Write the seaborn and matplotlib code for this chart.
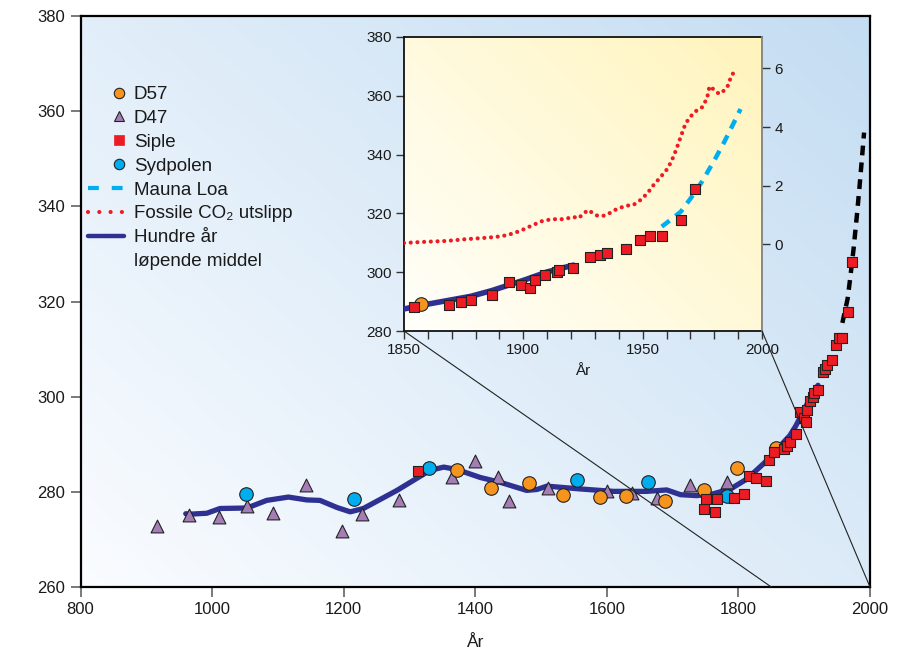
import numpy as np
import pandas as pd
import matplotlib
matplotlib.use("Agg")
import matplotlib.pyplot as plt
import seaborn as sns
from matplotlib.lines import Line2D
from matplotlib.patches import ConnectionPatch

# ---------------- data ----------------
d57_year = [1372, 1424, 1481, 1533, 1589, 1629, 1689, 1748, 1798, 1857]
d57_co2 = [284.5, 280.9, 281.9, 279.4, 278.9, 279.2, 278.1, 280.3, 285.0, 289.2]

d47_year = [917, 965, 1011, 1053, 1093, 1142, 1197, 1228, 1284, 1364, 1400, 1435,
            1451, 1511, 1601, 1639, 1676, 1727, 1783]
d47_co2 = [272.9, 275.2, 274.8, 277.0, 275.6, 281.4, 271.8, 275.3, 278.3, 283.1, 286.4, 283.2,
           278.0, 280.8, 280.1, 279.8, 278.8, 281.5, 282.0]

siple_year = [1313, 1748, 1750, 1765, 1768, 1794, 1809, 1816, 1826, 1842, 1847,
              1854, 1869, 1874, 1878, 1887, 1894, 1899, 1903, 1905, 1909, 1914, 1915,
              1921, 1928, 1932, 1935, 1943, 1949, 1953, 1958, 1966, 1972]
siple_co2 = [284.3, 276.3, 278.5, 275.7, 278.5, 278.8, 279.6, 283.4, 282.9, 282.3, 286.6,
             288.3, 289.0, 289.7, 290.5, 292.1, 296.7, 295.6, 294.7, 297.2, 299.0, 299.9, 300.8,
             301.5, 305.1, 305.8, 306.6, 307.8, 310.8, 312.4, 312.3, 317.7, 328.2]

sydpol_year = [1052, 1215, 1330, 1555, 1663, 1782]
sydpol_co2 = [279.6, 278.5, 285.1, 282.4, 282.0, 279.1]

mauna_year = [1958, 1962, 1966, 1970, 1975, 1980, 1984, 1988, 1991]
mauna_co2 = [315.5, 318.0, 320.6, 325.0, 331.0, 338.0, 344.0, 350.5, 355.5]

mean_year = [960, 966, 992, 1012, 1053, 1083, 1116, 1144, 1164, 1190, 1210, 1230, 1281,
             1331, 1352, 1372, 1408, 1438, 1478, 1494, 1509, 1560, 1610, 1661, 1691,
             1712, 1737, 1762, 1788, 1813, 1838, 1850, 1859, 1878, 1887, 1901, 1910, 1921]
mean_co2 = [275.4, 275.3, 275.5, 276.5, 276.6, 278.2, 278.9, 278.3, 278.2, 276.7, 275.8,
            276.5, 280.3, 284.5, 285.2, 284.7, 283.0, 282.0, 280.3, 280.5, 281.2, 280.6,
            280.1, 280.1, 280.4, 279.4, 279.2, 279.6, 280.6, 282.7, 285.9, 287.5, 289.0,
            291.8, 293.8, 297.5, 300.1, 302.4]

fossil_year = [1850, 1859, 1868, 1876, 1885, 1891, 1896, 1900, 1904, 1908, 1912, 1917,
               1921, 1923, 1927, 1929, 1931, 1934, 1936, 1939, 1943, 1946, 1949, 1952,
               1954, 1957, 1960, 1962, 1964, 1966, 1968, 1971, 1973, 1975, 1977, 1978,
               1980, 1982, 1984, 1986, 1987, 1989]
fossil_gt = [0.05, 0.09, 0.12, 0.18, 0.23, 0.28, 0.38, 0.51, 0.66, 0.80, 0.86, 0.86,
             0.94, 0.89, 1.17, 1.08, 0.98, 0.98, 1.06, 1.20, 1.32, 1.34, 1.51, 1.74,
             1.97, 2.25, 2.54, 2.82, 3.22, 3.68, 4.13, 4.45, 4.59, 4.68, 4.99, 5.39,
             5.27, 5.13, 5.24, 5.44, 5.73, 5.95]

main_xticks = [800, 1000, 1200, 1400, 1600, 1800, 2000]
main_yticks = [260, 280, 300, 320, 340, 360, 380]
inset_xticks = [1850, 1900, 1950, 2000]
inset_yticks = [280, 300, 320, 340, 360, 380]
inset_rticks = [0, 2, 4, 6]
xlabel = "År"

# ---------------- style ----------------
sns.set_style("ticks")
plt.rcParams['font.family'] = ['Liberation Sans', 'DejaVu Sans']

C_D57 = "#F7941D"
C_D47 = "#A57DB5"
C_SIP = "#ED1C24"
C_SYD = "#00AEEF"
C_MEAN = "#2E3192"
C_FOS = "#ED1C24"

W, H = 899, 651
fig = plt.figure(figsize=(W / 100, H / 100), dpi=100)
fig.patch.set_facecolor("white")

ax = fig.add_axes([80.5 / W, 1 - 587 / H, (870 - 80.5) / W, (587 - 16) / H])
ins = fig.add_axes([404 / W, 1 - 331 / H, (762 - 404) / W, (331 - 37) / H])


def gradient(a, c0, c1):
    n = 256
    xx, yy = np.meshgrid(np.linspace(0, 1, n), np.linspace(0, 1, n))
    t = (xx * 0.55 + yy * 0.45)
    t = t[..., None]
    img = (1 - t) * np.array(c0) / 255 + t * np.array(c1) / 255
    a.imshow(img, extent=[0, 1, 0, 1], transform=a.transAxes, origin="lower",
             aspect="auto", zorder=0, interpolation="bilinear")


gradient(ax, (250, 252, 255), (196, 221, 242))
gradient(ins, (255, 255, 251), (255, 244, 188))


def draw_points(a):
    sns.scatterplot(x=d47_year, y=d47_co2, ax=a, marker="^", s=85, color=C_D47,
                    edgecolor="#222222", linewidth=0.8, zorder=4, legend=False)
    sns.scatterplot(x=sydpol_year, y=sydpol_co2, ax=a, marker="o", s=95, color=C_SYD,
                    edgecolor="#222222", linewidth=0.8, zorder=4, legend=False)
    sns.scatterplot(x=d57_year, y=d57_co2, ax=a, marker="o", s=95, color=C_D57,
                    edgecolor="#222222", linewidth=0.8, zorder=5, legend=False)
    sns.scatterplot(x=siple_year, y=siple_co2, ax=a, marker="s", s=60, color=C_SIP,
                    edgecolor="#222222", linewidth=0.8, zorder=6, legend=False)


# main
sns.lineplot(x=mean_year, y=mean_co2, ax=ax, color=C_MEAN, lw=3.8, zorder=3,
             solid_capstyle="round")
sns.lineplot(x=mauna_year, y=mauna_co2, ax=ax, color="black", lw=3.2, zorder=3)
ax.lines[-1].set_dashes((2.2, 1.6))
draw_points(ax)

ax.set_xlim(800, 2000)
ax.set_ylim(260, 380)
ax.set_xticks(main_xticks)
ax.set_yticks(main_yticks)
ax.tick_params(axis="both", direction="out", length=7, width=1.1, color="#555555",
               labelsize=12, labelcolor="#1a1a1a", pad=4)
for s in ax.spines.values():
    s.set_linewidth(1.6)
    s.set_color("black")
    s.set_visible(True)
ax.set_xlabel(xlabel, fontsize=12.5, labelpad=13, color="#1a1a1a")
ax.set_ylabel("")

# inset
sns.lineplot(x=mean_year, y=mean_co2, ax=ins, color=C_MEAN, lw=4.0, zorder=3,
             solid_capstyle="round")
sns.lineplot(x=mauna_year, y=mauna_co2, ax=ins, color=C_SYD, lw=3.2, zorder=3)
ins.lines[-1].set_dashes((2.2, 1.7))
draw_points(ins)
ins.set_xlim(1850, 2000)
ins.set_ylim(280, 380)
ins.set_xticks(inset_xticks)
ins.set_xticks(np.arange(1850, 2001, 10), minor=True)
ins.set_yticks(inset_yticks)
ins.tick_params(axis="both", which="both", direction="out", length=6, width=1.0,
                color="#333333", labelsize=11, labelcolor="#1a1a1a", pad=3)
ins.tick_params(axis="x", which="minor", length=6)
for k, s in ins.spines.items():
    s.set_visible(True)
    s.set_linewidth(1.3)
    s.set_color("#111111")
ins.spines["right"].set_color("#8a8a8a")
ins.set_xlabel(xlabel, fontsize=11, labelpad=5, color="#1a1a1a")
ins.set_ylabel("")

ax2 = ins.twinx()
sns.lineplot(x=fossil_year, y=fossil_gt, ax=ax2, color=C_FOS, lw=3.0, zorder=3)
ax2.lines[-1].set_dashes((0.01, 1.6))
ax2.lines[-1].set_dash_capstyle("round")
ax2.set_ylim(-2.95, 7.07)
ax2.set_yticks(inset_rticks)
ax2.tick_params(axis="y", direction="out", length=6, width=1.0, color="#333333",
                labelsize=11, labelcolor="#1a1a1a", pad=3)
ax2.set_ylabel("")
ax2.spines["right"].set_color("#8a8a8a")
ax2.spines["right"].set_linewidth(1.3)
for k in ["left", "top", "bottom"]:
    ax2.spines[k].set_visible(False)

# zoom connectors
for xv in (1850, 2000):
    cp = ConnectionPatch(xyA=(xv, 280), coordsA=ins.transData,
                         xyB=(xv, 260), coordsB=ax.transData,
                         color="#222222", lw=0.8, zorder=2)
    fig.add_artist(cp)

# legend
h_d57 = Line2D([], [], ls="none", marker="o", ms=7.5, mfc=C_D57, mec="#222222", mew=0.8)
h_d47 = Line2D([], [], ls="none", marker="^", ms=7.5, mfc=C_D47, mec="#222222", mew=0.8)
h_sip = Line2D([], [], ls="none", marker="s", ms=6.5, mfc=C_SIP, mec=C_SIP, mew=0.5)
h_syd = Line2D([], [], ls="none", marker="o", ms=7.5, mfc=C_SYD, mec="#222222", mew=0.8)
h_ml = Line2D([], [], color=C_SYD, lw=3.0, dashes=(2.6, 3.1))
h_fos = Line2D([], [], color=C_FOS, lw=3.0, dashes=(0.01, 2.7), dash_capstyle="round")
h_mean = Line2D([], [], color=C_MEAN, lw=3.2)
h_blank = Line2D([], [], color="none")
labels = ["D57", "D47", "Siple", "Sydpolen", "Mauna Loa", "Fossile CO₂ utslipp",
          "Hundre år", "løpende middel"]
leg = ax.legend([h_d57, h_d47, h_sip, h_syd, h_ml, h_fos, h_mean, h_blank], labels,
                loc="upper left", bbox_to_anchor=(88 / W, 1 - 86 / H),
                bbox_transform=fig.transFigure, frameon=False, fontsize=13.5,
                handlelength=1.9, handletextpad=0.55, labelspacing=0.36,
                borderpad=0, borderaxespad=0, numpoints=1)
for t in leg.get_texts():
    t.set_color("#1a1a1a")
for h in leg.legend_handles[:4]:
    xd = np.asarray(h.get_xdata(), dtype=float)
    xm = xd[0] + 0.88 * (xd[-1] - xd[0])
    h.set_xdata(np.full_like(xd, xm))

fig.savefig("out.png", dpi=100, facecolor="white")
